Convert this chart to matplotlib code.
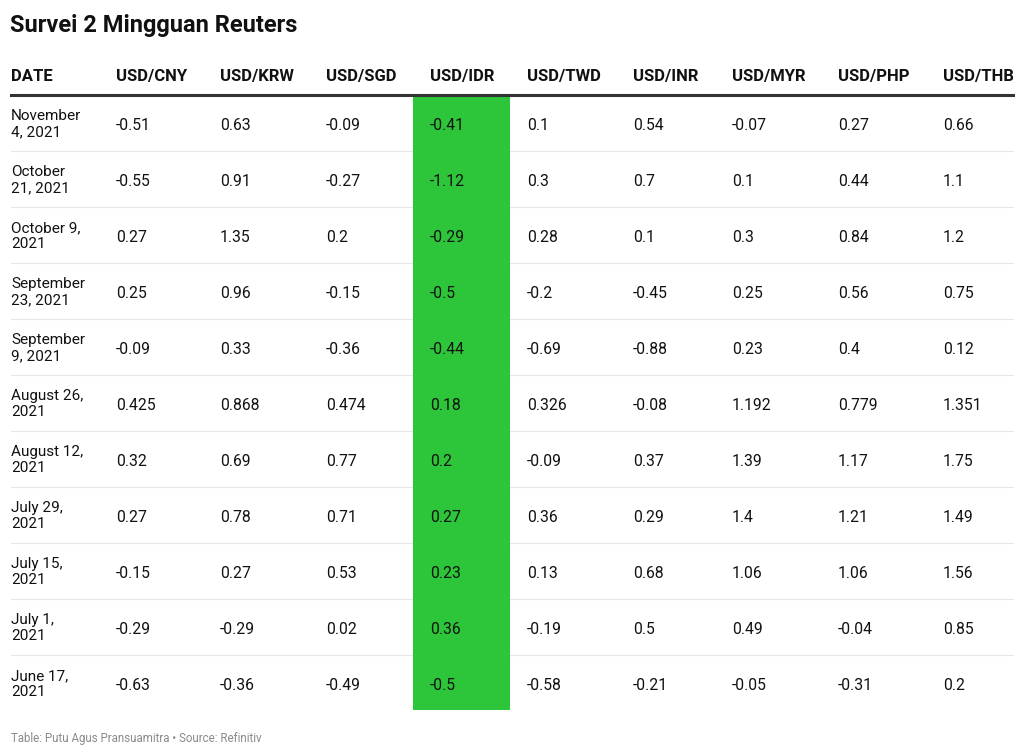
import matplotlib.pyplot as plt
from matplotlib.patches import Rectangle

plt.rcParams['font.family'] = ['Roboto', 'DejaVu Sans']

title = 'Survei 2 Mingguan Reuters'
footer = 'Table: Putu Agus Pransuamitra \u2022 Source: Refinitiv'

headers = ['DATE', 'USD/CNY', 'USD/KRW', 'USD/SGD', 'USD/IDR', 'USD/TWD',
           'USD/INR', 'USD/MYR', 'USD/PHP', 'USD/THB']

dates = ['November\n4, 2021', 'October\n21, 2021', 'October 9,\n2021',
         'September\n23, 2021', 'September\n9, 2021', 'August 26,\n2021',
         'August 12,\n2021', 'July 29,\n2021', 'July 15,\n2021',
         'July 1,\n2021', 'June 17,\n2021']

usd_cny = [-0.51, -0.55, 0.27, 0.25, -0.09, 0.425, 0.32, 0.27, -0.15, -0.29, -0.63]
usd_krw = [0.63, 0.91, 1.35, 0.96, 0.33, 0.868, 0.69, 0.78, 0.27, -0.29, -0.36]
usd_sgd = [-0.09, -0.27, 0.2, -0.15, -0.36, 0.474, 0.77, 0.71, 0.53, 0.02, -0.49]
usd_idr = [-0.41, -1.12, -0.29, -0.5, -0.44, 0.18, 0.2, 0.27, 0.23, 0.36, -0.5]
usd_twd = [0.1, 0.3, 0.28, -0.2, -0.69, 0.326, -0.09, 0.36, 0.13, -0.19, -0.58]
usd_inr = [0.54, 0.7, 0.1, -0.45, -0.88, -0.08, 0.37, 0.29, 0.68, 0.5, -0.21]
usd_myr = [-0.07, 0.1, 0.3, 0.25, 0.23, 1.192, 1.39, 1.4, 1.06, 0.49, -0.05]
usd_php = [0.27, 0.44, 0.84, 0.56, 0.4, 0.779, 1.17, 1.21, 1.06, -0.04, -0.31]
usd_thb = [0.66, 1.1, 1.2, 0.75, 0.12, 1.351, 1.75, 1.49, 1.56, 0.85, 0.2]

columns = [usd_cny, usd_krw, usd_sgd, usd_idr, usd_twd, usd_inr,
           usd_myr, usd_php, usd_thb]

# layout in pixels
col_x = [11, 116, 220, 326, 430, 527, 633, 732, 838, 943]
left, right = 11, 1013
top = 96
row_h = 56
hl_x0, hl_x1 = 413, 510

fig = plt.figure(figsize=(10.24, 7.56), dpi=100)
ax = fig.add_axes([0, 0, 1, 1])
ax.set_xlim(0, 1024)
ax.set_ylim(756, 0)
ax.axis('off')

ax.text(10, 32, title, fontsize=17, fontweight='bold', color='#111111',
        va='baseline', ha='left')

for x, h in zip(col_x, headers):
    ax.text(x, 81, h, fontsize=12, fontweight='bold', color='#111111',
            va='baseline', ha='left')

n = len(dates)
bottom = top + row_h * n - 2
ax.add_patch(Rectangle((hl_x0, top), hl_x1 - hl_x0, bottom - top,
                       facecolor='#2dc539', edgecolor='none', zorder=2))

ax.plot([left, right], [95, 95], color='#333333', lw=2.2, zorder=3)
for i in range(1, n):
    y = top + row_h * i - 1
    ax.plot([left, right], [y, y], color='#e6e6e6', lw=0.8, zorder=1)

for i, d in enumerate(dates):
    yc = top + row_h * i + 28
    ax.text(col_x[0], yc, d, fontsize=11, color='#111111', va='center',
            ha='left', linespacing=1.15, zorder=4)
    for j, col in enumerate(columns):
        ax.text(col_x[j + 1], yc + 6, str(col[i]), fontsize=11.3, color='#111111',
                va='baseline', ha='left', zorder=4)

ax.text(11, 742, footer, fontsize=8.3, color='#8a8a8a', va='baseline', ha='left')

fig.savefig('out.png', dpi=100)
